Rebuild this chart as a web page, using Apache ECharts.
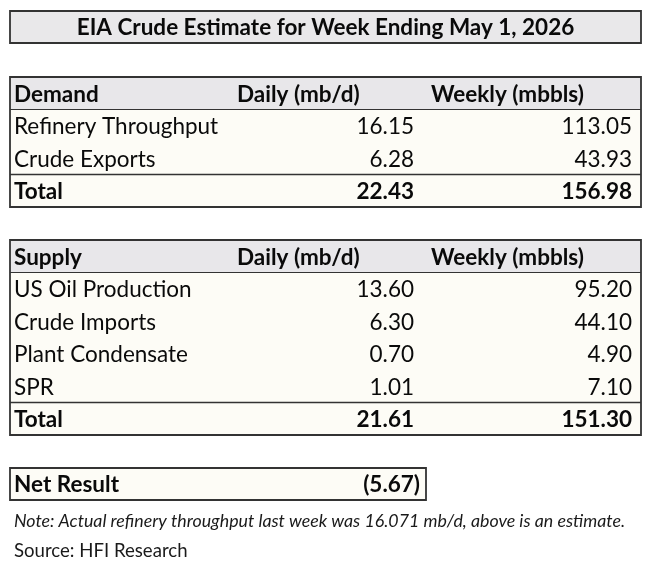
<!DOCTYPE html>
<html>
<head>
<meta charset="utf-8">
<script src="https://cdn.jsdelivr.net/npm/echarts@6/dist/echarts.min.js"></script>
<style>
html,body{margin:0;padding:0;background:#fff;}
#c{width:650px;height:567px;}
</style>
</head>
<body>
<div id="c"></div>
<script>
// ---- data ----
const title = 'EIA Crude Estimate for Week Ending May 1, 2026';
const columnHeaders = ['Daily (mb/d)', 'Weekly (mbbls)'];

const demandLabels = ['Refinery Throughput', 'Crude Exports'];
const demandDaily = ['16.15', '6.28'];
const demandWeekly = ['113.05', '43.93'];
const demandTotal = ['22.43', '156.98'];

const supplyLabels = ['US Oil Production', 'Crude Imports', 'Plant Condensate', 'SPR'];
const supplyDaily = ['13.60', '6.30', '0.70', '1.01'];
const supplyWeekly = ['95.20', '44.10', '4.90', '7.10'];
const supplyTotal = ['21.61', '151.30'];

const netLabel = 'Net Result';
const netValue = '(5.67)';
const noteText = 'Note: Actual refinery throughput last week was 16.071 mb/d, above is an estimate.';
const sourceText = 'Source: HFI Research';

// ---- layout / style ----
const FONT = 'Lato, "Noto Sans", sans-serif';
const L = 10, R = 641;
const ROW_H = 32.5;
const BORDER = '#333333';
const HEAD_FILL = '#e8e7ea';
const BODY_FILL = '#fdfcf6';
const colLabelX = 14;
const colDailyHeadX = 237, colWeeklyHeadX = 431;
const colDailyX = 414, colWeeklyX = 632;
const FS = 22.5;

const elements = [];

function txt(text, x, y, opts) {
  opts = opts || {};
  elements.push({
    type: 'text', silent: true, z: 10,
    style: {
      text: text, x: x, y: y,
      fill: opts.fill || '#0a0a0a',
      fontFamily: FONT,
      fontSize: opts.size || FS,
      fontWeight: opts.bold ? 'bold' : 'normal',
      fontStyle: opts.italic ? 'italic' : 'normal',
      align: opts.align || 'left',
      verticalAlign: 'middle'
    }
  });
}
function rect(x, y, w, h, fill, stroke, lw) {
  elements.push({
    type: 'rect', silent: true, z: 1,
    shape: { x: x, y: y, width: w, height: h },
    style: { fill: fill || 'none', stroke: stroke || null, lineWidth: lw || 0 }
  });
}
function line(x1, y1, x2, y2, lw) {
  elements.push({
    type: 'line', silent: true, z: 5,
    shape: { x1: x1, y1: y1, x2: x2, y2: y2 },
    style: { stroke: BORDER, lineWidth: lw || 1.5 }
  });
}

// Title box
rect(L, 11, R - L, 32, '#e9e8ea', BORDER, 1.8);
txt(title, (L + R) / 2, 27.5, { bold: true, align: 'center', size: 22.5 });

function table(top, head, labels, daily, weekly, total) {
  const n = labels.length;
  const h = ROW_H * (n + 2);
  rect(L, top, R - L, h, BODY_FILL, null, 0);
  rect(L, top, R - L, ROW_H, HEAD_FILL, null, 0);
  // header
  const hy = top + ROW_H / 2 + 1;
  txt(head, colLabelX, hy, { bold: true });
  txt(columnHeaders[0], colDailyHeadX, hy, { bold: true });
  txt(columnHeaders[1], colWeeklyHeadX, hy, { bold: true });
  line(L, top + ROW_H, R, top + ROW_H, 1.2);
  for (let i = 0; i < n; i++) {
    const y = top + ROW_H * (i + 1.5) + 1;
    txt(labels[i], colLabelX, y);
    txt(daily[i], colDailyX, y, { align: 'right' });
    txt(weekly[i], colWeeklyX, y, { align: 'right' });
  }
  const ty = top + ROW_H * (n + 1);
  line(L, ty, R, ty, 1.5);
  txt('Total', colLabelX, ty + ROW_H / 2 + 1, { bold: true });
  txt(total[0], colDailyX, ty + ROW_H / 2 + 1, { bold: true, align: 'right' });
  txt(total[1], colWeeklyX, ty + ROW_H / 2 + 1, { bold: true, align: 'right' });
  rect(L, top, R - L, h, 'none', BORDER, 1.8);
}

table(77, 'Demand', demandLabels, demandDaily, demandWeekly, demandTotal);
table(240, 'Supply', supplyLabels, supplyDaily, supplyWeekly, supplyTotal);

// Net result box
rect(L, 468, 416, 32, BODY_FILL, BORDER, 1.8);
txt(netLabel, colLabelX, 485, { bold: true });
txt(netValue, 420, 485, { bold: true, align: 'right' });

txt(noteText, colLabelX, 521, { italic: true, size: 17.8, fill: '#1a1a1a' });
txt(sourceText, colLabelX, 551, { size: 18.6, fill: '#1a1a1a' });

const chart = echarts.init(document.getElementById('c'), null, { renderer: 'canvas' });
chart.setOption({
  backgroundColor: '#ffffff',
  animation: false,
  graphic: { elements: elements }
});
</script>
</body>
</html>
